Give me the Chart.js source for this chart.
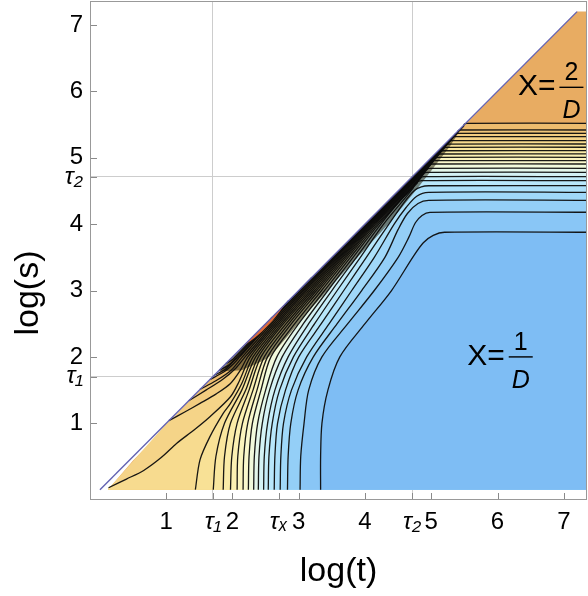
<!DOCTYPE html>
<html>
<head>
<meta charset="utf-8">
<script src="https://cdn.jsdelivr.net/npm/chart.js@4.4.1/dist/chart.umd.min.js"></script>
<style>
  html, body { margin: 0; padding: 0; background: #fff; }
  canvas { display: block; }
</style>
</head>
<body>
<canvas id="chart" width="588" height="596"></canvas>
<script>
// axis ticks
const xTickValues = [1, 1.705, 2, 2.7, 3, 4, 4.71, 5, 6, 7];
const xTickLabels = ['1', 'τ₁', '2', 'τₓ', '3', '4', 'τ₂', '5', '6', '7'];
const yTickValues = [1, 1.7, 2, 3, 4, 4.71, 5, 6, 7];
const yTickLabels = ['1', 'τ₁', '2', '3', '4', 'τ₂', '5', '6', '7'];
const gridTimes = [1.705, 4.71];
const gridSizes = [1.7, 4.71];

// contour lines, [log t, log s], lowest level first
const level01 = [[3.33,0],[3.33,0.5],[3.35,1.0],[3.44,1.5],[3.62,2.0],[4.0,2.5],[4.4,3.0],[4.72,3.5],[4.88,3.72],[5.03,3.83],[5.2,3.877],[7.5,3.877]];
const level02 = [[3.02,0],[3.03,0.5],[3.08,1.0],[3.15,1.5],[3.35,2.0],[3.74,2.5],[4.14,3.0],[4.5,3.5],[4.66,3.8],[4.76,4.02],[4.86,4.13],[4.98,4.178],[7.5,4.178]];
const level03 = [[2.83,0],[2.84,0.5],[2.88,1.0],[2.99,1.5],[3.22,2.0],[3.58,2.5],[3.95,3.0],[4.3,3.5],[4.5,3.92],[4.64,4.16],[4.8,4.31],[4.96,4.358],[7.5,4.358]];
const level04 = [[2.72,0],[2.73,0.5],[2.77,1.0],[2.89,1.5],[3.12,2.0],[3.46,2.5],[3.8,3.0],[4.14,3.5],[4.44,4.0],[4.62,4.25],[4.78,4.42],[4.96,4.479],[7.5,4.479]];
const level05 = [[2.63,0],[2.64,0.5],[2.68,1.0],[2.8,1.5],[3.0,2.0],[3.34,2.5],[3.68,3.0],[4.02,3.5],[4.36,4.0],[4.6,4.34],[4.75,4.51],[4.85,4.562],[4.96,4.578],[7.5,4.578]];
const level06 = [[2.54,0],[2.55,0.5],[2.6,1.0],[2.71,1.5],[2.92,2.0],[3.24,2.5],[3.58,3.0],[3.93,3.5],[4.28,4.0],[4.72,4.534],[4.76,4.619],[4.854,4.654],[7.5,4.654]];
const level07 = [[2.47,0],[2.48,0.5],[2.53,1.0],[2.64,1.5],[2.84,2.0],[3.15,2.5],[3.5,3.0],[3.87,3.5],[4.24,4.0],[4.57,4.4],[4.784,4.614],[4.813,4.685],[4.884,4.714],[7.5,4.714]];
const level08 = [[2.39,0],[2.4,0.5],[2.45,1.0],[2.56,1.5],[2.75,2.0],[3.07,2.5],[3.44,3.0],[3.82,3.5],[4.21,4.0],[4.84,4.69],[4.866,4.754],[4.93,4.78],[7.5,4.78]];
const level09 = [[2.32,0],[2.33,0.5],[2.38,1.0],[2.5,1.5],[2.67,2.0],[3.0,2.5],[3.39,3.0],[3.78,3.5],[4.185,4.0],[4.885,4.755],[4.91,4.815],[4.97,4.84],[7.5,4.84]];
const level10 = [[2.24,0],[2.25,0.5],[2.3,1.0],[2.43,1.5],[2.58,2.0],[2.94,2.5],[3.345,3.0],[3.745,3.5],[4.16,4.0],[4.94,4.825],[4.963,4.882],[5.02,4.905],[7.5,4.905]];
const level11 = [[2.16,0],[2.17,0.5],[2.23,1.0],[2.37,1.5],[2.53,2.0],[2.89,2.5],[3.305,3.0],[3.715,3.5],[4.14,4.0],[4.98,4.88],[5.002,4.933],[5.055,4.955],[7.5,4.955]];
const level12 = [[2.07,0],[2.08,0.5],[2.15,1.0],[2.31,1.5],[2.48,2.0],[2.85,2.5],[3.27,3.0],[3.69,3.5],[4.125,4.0],[5.024,4.936],[5.045,4.986],[5.094,5.006],[7.5,5.006]];
const level13 = [[1.97,0],[1.99,0.5],[2.07,1.0],[2.25,1.5],[2.43,2.0],[2.81,2.5],[3.24,3.0],[3.665,3.5],[4.11,4.0],[5.068,4.991],[5.087,5.037],[5.133,5.056],[7.5,5.056]];
const level14 = [[1.86,0],[1.88,0.5],[1.97,1.0],[2.2,1.5],[2.39,2.0],[2.77,2.5],[3.21,3.0],[3.645,3.5],[4.095,4.0],[5.112,5.045],[5.13,5.087],[5.172,5.105],[7.5,5.105]];
const level15 = [[1.71,0],[1.75,0.5],[1.88,1.0],[2.14,1.5],[2.35,2.0],[2.74,2.5],[3.18,3.0],[3.625,3.5],[4.083,4.0],[5.155,5.097],[5.173,5.139],[5.215,5.157],[7.5,5.157]];
const level16 = [[1.44,0],[1.51,0.45],[1.66,0.8],[1.86,1.15],[1.97,1.3],[2.14,1.6],[2.31,2.0],[2.71,2.5],[3.15,3.0],[3.605,3.5],[4.071,4.0],[5.201,5.151],[5.217,5.19],[5.256,5.206],[7.5,5.206]];
const level17 = [[0.13,0.03],[0.4,0.16],[0.66,0.29],[0.92,0.48],[1.16,0.7],[1.42,0.9],[1.66,1.1],[1.97,1.4],[2.1,1.63],[2.27,2.0],[2.68,2.5],[3.12,3.0],[3.585,3.5],[4.06,4.0],[5.243,5.201],[5.259,5.24],[5.298,5.256],[7.5,5.256]];
const level18 = [[1.04,1.04],[1.28,1.17],[1.51,1.3],[1.75,1.44],[1.97,1.6],[2.12,1.8],[2.23,2.0],[2.65,2.5],[3.095,3.0],[3.565,3.5],[4.049,4.0],[5.301,5.266],[5.316,5.301],[5.351,5.316],[7.5,5.316]];
const level19 = [[1.34,1.34],[1.6,1.5],[1.85,1.66],[2.05,1.83],[2.19,2.0],[2.62,2.5],[3.07,3.0],[3.55,3.5],[4.039,4.0],[5.345,5.317],[5.36,5.352],[5.395,5.367],[7.5,5.367]];
const level20 = [[1.51,1.51],[1.75,1.64],[1.98,1.8],[2.15,2.0],[2.59,2.5],[3.05,3.0],[3.535,3.5],[4.029,4.0],[5.389,5.367],[5.404,5.402],[5.439,5.417],[7.5,5.417]];
const level21 = [[1.66,1.66],[1.88,1.78],[2.02,1.9],[2.11,2.0],[2.56,2.5],[3.025,3.0],[3.52,3.5],[4.019,4.0],[5.484,5.468],[5.499,5.503],[5.534,5.518],[7.5,5.518]];

// closed contours hugging the diagonal (levels above 2/D)
const loopA = [[1.72,1.72],[1.9,1.82],[2.03,1.95],[2.09,2.0],[2.545,2.5],[2.98,2.97],[3.2,3.2]];
const loopB = [[1.8,1.8],[1.95,1.88],[2.065,2.0],[2.53,2.5],[2.85,2.85]];
const loopC = [[1.9,1.9],[2.0,1.96],[2.04,2.0],[2.515,2.5],[2.6,2.6]];
const hotStrip = [[2.15,2.15],[2.4,2.34],[2.6,2.54],[2.8,2.8]];
// outer edge of the densely packed part of the contour bundle
const bundleCore = [[1.78,1.78],[5.45,5.45],[5.3,5.2],[4.84,4.6],[4.35,4.0],[3.89,3.5],[3.43,3.0],[2.99,2.5],[2.55,2.0],[2.14,1.8]];

// domain of the plot (s < t, s <= 7.2)
const domainEdge = [[0.12,0],[7.5,0],[7.5,7.2],[7.2,7.2],[2,1.97],[0.5,0.44]];
const diagonal = [[0,0],[7.2,7.2]];

// band colours, lowest level (1/D) to highest (2/D)
const bandColors = [
  'rgb(126,189,244)', 'rgb(137,198,246)', 'rgb(148,207,247)', 'rgb(160,216,249)',
  'rgb(172,224,250)', 'rgb(184,231,251)', 'rgb(197,237,250)', 'rgb(212,242,245)',
  'rgb(228,247,235)', 'rgb(242,250,220)', 'rgb(250,248,205)', 'rgb(251,244,190)',
  'rgb(251,240,178)', 'rgb(250,235,167)', 'rgb(249,230,158)', 'rgb(248,225,150)',
  'rgb(247,219,143)', 'rgb(245,212,136)', 'rgb(243,205,128)', 'rgb(240,197,120)',
  'rgb(237,188,110)', 'rgb(232,172,98)'
];

// region labels
const noteT = [7.115, 6.35];
const noteS = [6.06, 2.0];
const noteLeft = ['X=', 'X='];
const noteNum = ['2', '1'];
const noteDen = ['D', 'D'];

const contours = [level01, level02, level03, level04, level05, level06, level07,
  level08, level09, level10, level11, level12, level13, level14, level15,
  level16, level17, level18, level19, level20, level21];
const loops = [loopA, loopB, loopC];

const toXY = pts => pts.map(([t, s]) => ({x: t, y: s}));
const datasets = [];
let seq = 0;
function add(ds) {
  ds.order = 1000 - seq++;
  ds.showLine = true;
  ds.pointRadius = 0;
  datasets.push(ds);
}

add({data: toXY(domainEdge), fill: 'shape', backgroundColor: bandColors[21], borderWidth: 0, tension: 0, clip: 0});
for (let i = contours.length - 1; i >= 0; i--) {
  const pts = contours[i];
  const last = pts[pts.length - 1];
  const closing = [[last[0], 0]];
  if (pts[0][1] > 0) closing.push([domainEdge[0][0], 0]);
  add({data: toXY(pts.concat(closing)), fill: 'shape', backgroundColor: bandColors[i], borderWidth: 0, tension: 0, clip: 0});
}
add({data: toXY(bundleCore), fill: 'shape', backgroundColor: 'rgba(40,32,10,0.55)', borderWidth: 0, tension: 0.2, clip: 0});
contours.concat(loops).forEach(pts => {
  add({data: toXY(pts), fill: false, borderColor: 'rgba(12,12,12,0.95)', borderWidth: 1.3, tension: 0.3});
});
add({data: toXY(hotStrip), fill: 'shape', backgroundColor: 'rgb(224,108,58)', borderWidth: 0, tension: 0.3});
add({data: toXY(diagonal), fill: false, borderColor: 'rgb(98,98,178)', borderWidth: 1.4, tension: 0});

const frameTicks = {
  id: 'frameTicks',
  afterDraw(chart) {
    const {ctx, chartArea: a, scales: {x, y}} = chart;
    ctx.save();
    ctx.strokeStyle = '#8a8a8a';
    ctx.lineWidth = 1;
    ctx.beginPath();
    xTickValues.forEach(v => {
      const px = Math.round(x.getPixelForValue(v)) + 0.5;
      ctx.moveTo(px, a.bottom); ctx.lineTo(px, a.bottom - 7);
    });
    yTickValues.forEach(v => {
      const py = Math.round(y.getPixelForValue(v)) + 0.5;
      ctx.moveTo(a.left, py); ctx.lineTo(a.left + 7, py);
    });
    ctx.stroke();
    ctx.strokeStyle = '#999';
    ctx.strokeRect(Math.round(a.left) + 0.5, Math.round(a.top) + 0.5,
      Math.round(a.right - a.left) - 1, Math.round(a.bottom - a.top) - 1);
    ctx.restore();
  }
};

const fractionNotes = {
  id: 'fractionNotes',
  afterDatasetsDraw(chart) {
    const {ctx, scales: {x, y}} = chart;
    noteT.forEach((t, i) => {
      const cx = x.getPixelForValue(t);
      const cy = y.getPixelForValue(noteS[i]);
      const half = 12;
      ctx.save();
      ctx.fillStyle = '#000';
      ctx.strokeStyle = '#000';
      ctx.lineWidth = 1.4;
      ctx.beginPath();
      ctx.moveTo(cx - half, cy); ctx.lineTo(cx + half, cy);
      ctx.stroke();
      ctx.textBaseline = 'alphabetic';
      ctx.textAlign = 'right';
      ctx.font = '30px "Liberation Sans", Arial, sans-serif';
      ctx.fillText(noteLeft[i], cx - half - 4, cy + 8);
      ctx.textAlign = 'center';
      ctx.font = '25px "Liberation Sans", Arial, sans-serif';
      ctx.fillText(noteNum[i], cx, cy - 7);
      ctx.font = 'italic 25px "Liberation Sans", Arial, sans-serif';
      ctx.fillText(noteDen[i], cx, cy + 31);
      ctx.restore();
    });
  }
};

Chart.defaults.font.family = '"Liberation Sans", Arial, sans-serif';
Chart.defaults.color = '#000';

const tickFont = (values, labels) => c => {
  const i = values.indexOf(c.tick ? c.tick.value : NaN);
  const italic = i >= 0 && labels[i].startsWith('τ');
  return {size: 24, style: italic ? 'italic' : 'normal'};
};

new Chart(document.getElementById('chart'), {
  type: 'scatter',
  data: {datasets},
  plugins: [frameTicks, fractionNotes],
  options: {
    responsive: false,
    animation: false,
    devicePixelRatio: 1,
    events: [],
    layout: {padding: {top: 1, right: 1, left: 0, bottom: 0}},
    plugins: {legend: {display: false}, tooltip: {enabled: false}},
    scales: {
      x: {
        type: 'linear', min: -0.15, max: 7.35,
        afterBuildTicks: s => { s.ticks = xTickValues.map(v => ({value: v})); },
        afterFit: s => { s.height = 96; s.paddingLeft = 0; s.paddingRight = 0; },
        ticks: {
          autoSkip: false, maxRotation: 0, padding: 8, color: '#000',
          callback: v => xTickLabels[xTickValues.indexOf(v)],
          font: tickFont(xTickValues, xTickLabels)
        },
        grid: {
          drawTicks: false, lineWidth: 1,
          color: c => (c.tick && gridTimes.includes(c.tick.value)) ? '#cdcdcd' : 'rgba(0,0,0,0)'
        },
        border: {display: false},
        title: {display: true, text: 'log(t)', color: '#000', font: {size: 34}, padding: {top: 0, bottom: 4}}
      },
      y: {
        type: 'linear', min: -0.155, max: 7.36,
        afterBuildTicks: s => { s.ticks = yTickValues.map(v => ({value: v})); },
        afterFit: s => { s.width = 90; s.paddingTop = 0; s.paddingBottom = 0; },
        ticks: {
          autoSkip: false, padding: 7, color: '#000',
          callback: v => yTickLabels[yTickValues.indexOf(v)],
          font: tickFont(yTickValues, yTickLabels)
        },
        grid: {
          drawTicks: false, lineWidth: 1,
          color: c => (c.tick && gridSizes.includes(c.tick.value)) ? '#cdcdcd' : 'rgba(0,0,0,0)'
        },
        border: {display: false},
        title: {display: true, text: 'log(s)         ', color: '#000', font: {size: 34}, padding: {top: 8, bottom: 0}}
      }
    }
  }
});
</script>
</body>
</html>
